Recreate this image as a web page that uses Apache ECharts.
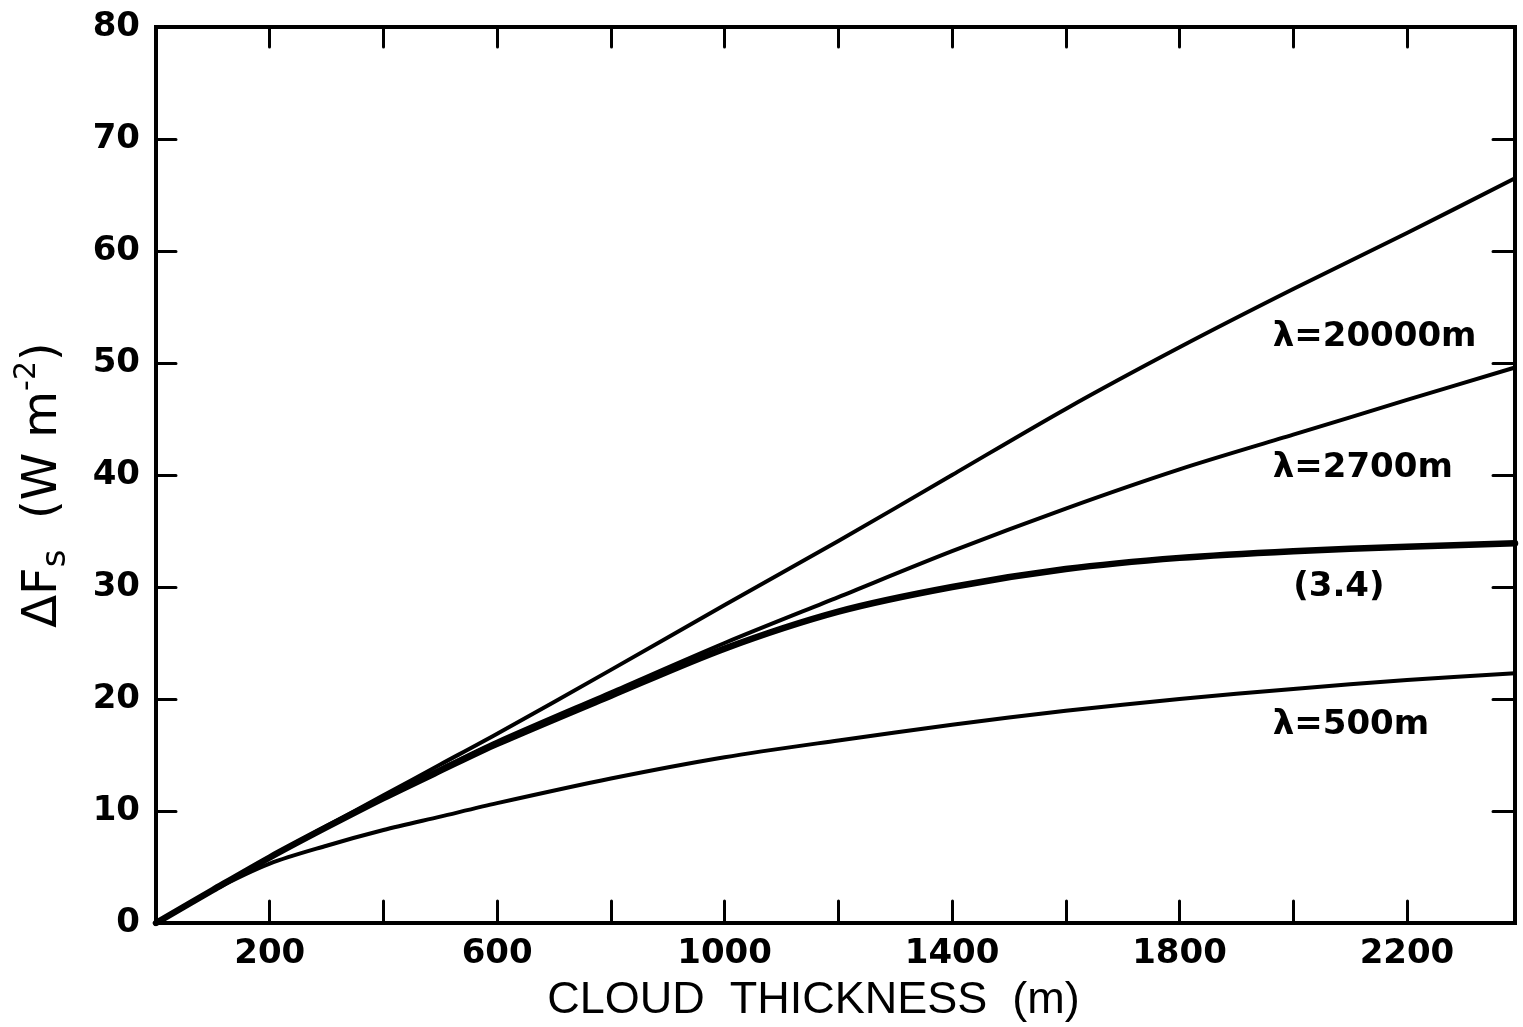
<!DOCTYPE html>
<html>
<head>
<meta charset="utf-8">
<title>Cloud thickness vs surface flux change</title>
<script src="https://cdn.jsdelivr.net/npm/echarts@6/dist/echarts.min.js"></script>
<style>
  html, body { margin: 0; padding: 0; background: #fff; }
  #chart { width: 1523px; height: 1027px; }
</style>
</head>
<body>
<div id="chart"></div>
<script>
// Cloud thickness (m) at which each curve is sampled
const thickness = [0, 100, 200, 300, 400, 500, 600, 800, 1000, 1200, 1400, 1600, 1800, 2000, 2200, 2390];

// ΔFs (W m^-2) for each case
const lambda20000 = [0, 2.95, 5.9, 8.65, 11.4, 14.15, 16.9, 22.6, 28.4, 34.1, 40.0, 45.9, 51.4, 56.6, 61.6, 66.5];
const lambda2700  = [0, 2.95, 5.85, 8.55, 11.2, 13.75, 16.2, 20.6, 25.0, 29.1, 33.2, 37.0, 40.5, 43.6, 46.7, 49.6];
const eq34        = [0, 2.95, 5.85, 8.55, 11.15, 13.6, 16.0, 20.3, 24.5, 27.8, 30.0, 31.6, 32.6, 33.2, 33.6, 33.9];
const lambda500   = [0, 2.9, 5.3, 6.9, 8.3, 9.5, 10.7, 12.9, 14.8, 16.3, 17.7, 18.95, 20.0, 20.9, 21.7, 22.3];

// Tick labels shown on the thickness axis
const xTickLabels = [200, 600, 1000, 1400, 1800, 2200];

// Curve annotations: text, thickness, ΔFs
const curveLabelText = ['λ=20000m', 'λ=2700m', '(3.4)', 'λ=500m'];
const curveLabelX = [1964, 1964, 2000, 1964];
const curveLabelY = [52.3, 40.6, 30.0, 17.7];

const pair = (ys) => thickness.map((x, i) => [x, ys[i]]);

const numFont = '"DejaVu Sans", sans-serif';

function curve(name, ys, width) {
  return {
    name: name,
    type: 'line',
    data: pair(ys),
    smooth: 0.3,
    symbol: 'none',
    lineStyle: { color: '#000', width: width, cap: 'round', join: 'round' },
    z: 3
  };
}

const chart = echarts.init(document.getElementById('chart'), null, { renderer: 'canvas' });

const tickStyle = { show: true, inside: true, lineStyle: { color: '#000', width: 3, cap: 'round' } };
const noLine = { show: false, onZero: false };

chart.setOption({
  animation: false,
  backgroundColor: '#fff',
  grid: {
    left: 156, top: 27, right: 8, bottom: 104,
    outerBoundsMode: 'none',
    containLabel: false,
    show: true, borderColor: '#000', borderWidth: 4, backgroundColor: 'transparent'
  },
  xAxis: [
    {
      type: 'value', min: 0, max: 2390, interval: 200, position: 'bottom',
      axisLine: noLine,
      splitLine: { show: false },
      axisTick: Object.assign({ length: 22 }, tickStyle),
      axisLabel: {
        margin: 14, color: '#000', fontFamily: numFont, fontSize: 34, fontWeight: 'bold',
        formatter: (v) => xTickLabels.indexOf(v) >= 0 ? String(v) : ''
      },
      name: 'CLOUD  THICKNESS  (m)',
      nameLocation: 'middle',
      nameGap: 55,
      nameMoveOverlap: false,
      nameTextStyle: {
        color: '#000', fontFamily: '"Liberation Sans", Arial, sans-serif', fontSize: 45,
        padding: [0, 44, 0, 0]
      }
    },
    {
      type: 'value', min: 0, max: 2390, interval: 200, position: 'top',
      axisLine: noLine, splitLine: { show: false },
      axisTick: Object.assign({ length: 20 }, tickStyle),
      axisLabel: { show: false }
    }
  ],
  yAxis: [
    {
      type: 'value', min: 0, max: 80, interval: 10, position: 'left',
      axisLine: noLine, splitLine: { show: false },
      axisTick: Object.assign({ length: 20 }, tickStyle),
      axisLabel: { margin: 16, color: '#000', fontFamily: numFont, fontSize: 34, fontWeight: 'bold' },
      name: '{a|ΔF}{sub|s}{a|  (W m}{sup|-2}{a|)}',
      nameLocation: 'middle',
      nameRotate: 90,
      nameGap: 80,
      nameMoveOverlap: false,
      nameTextStyle: {
        padding: [0, 20, 0, 0],
        rich: {
          a: { color: '#000', fontFamily: numFont, fontSize: 48, lineHeight: 64, verticalAlign: 'middle' },
          sub: { color: '#000', fontFamily: numFont, fontSize: 34, lineHeight: 34, verticalAlign: 'bottom', padding: [0, 0, 3, 0] },
          sup: { color: '#000', fontFamily: numFont, fontSize: 30, lineHeight: 30, verticalAlign: 'top' }
        }
      }
    },
    {
      type: 'value', min: 0, max: 80, interval: 10, position: 'right',
      axisLine: noLine, splitLine: { show: false },
      axisTick: Object.assign({ length: 22 }, tickStyle),
      axisLabel: { show: false }
    }
  ],
  series: [
    curve('λ=20000m', lambda20000, 4),
    curve('λ=2700m', lambda2700, 4),
    curve('(3.4)', eq34, 6.5),
    curve('λ=500m', lambda500, 4),
    {
      name: 'labels',
      type: 'scatter',
      symbolSize: 0,
      itemStyle: { opacity: 1 },
      data: curveLabelText.map((t, i) => ({ value: [curveLabelX[i], curveLabelY[i]], name: t })),
      label: {
        show: true, position: 'right', distance: 0, align: 'left', verticalAlign: 'middle',
        formatter: (p) => p.name,
        color: '#000', fontFamily: numFont, fontSize: 34, fontWeight: 'bold'
      },
      z: 4
    }
  ]
});
</script>
</body>
</html>
